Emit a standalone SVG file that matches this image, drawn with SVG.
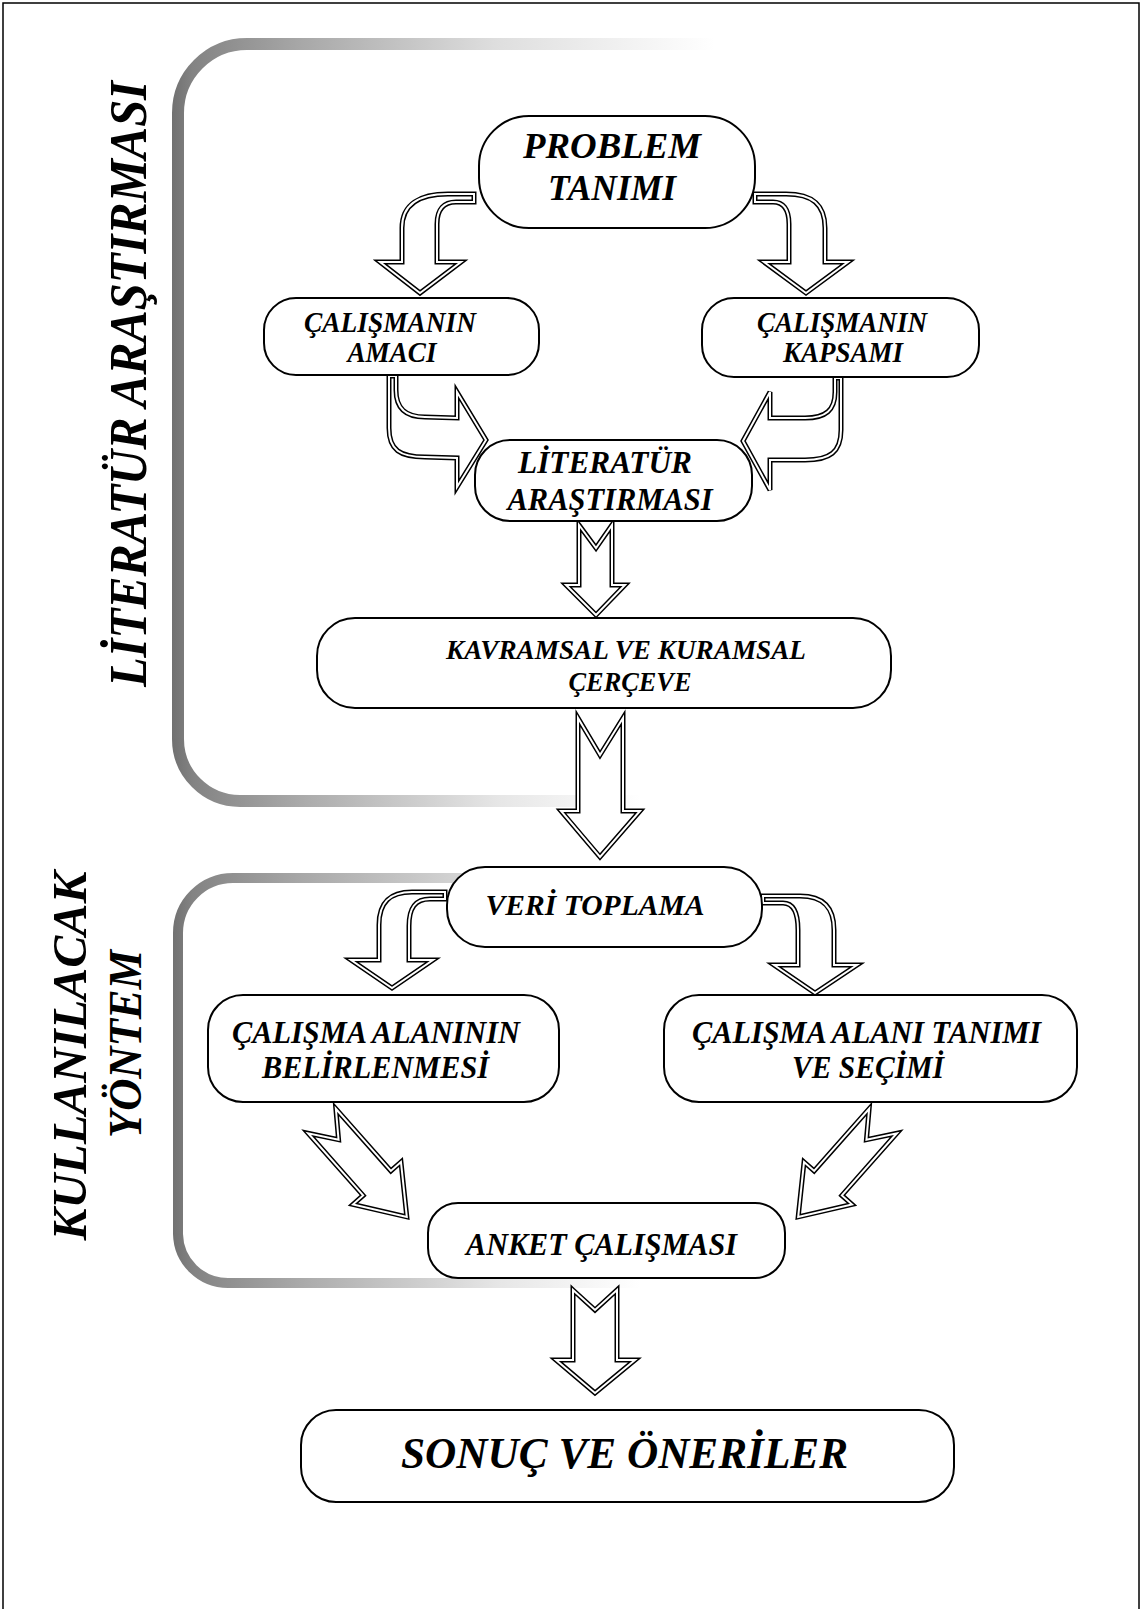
<svg xmlns="http://www.w3.org/2000/svg" xmlns:xlink="http://www.w3.org/1999/xlink" width="1142" height="1609" viewBox="0 0 1142 1609">
<style>
.box{fill:#fff;stroke:#000;stroke-width:2}
.t{font-family:"Liberation Serif","Times New Roman",serif;font-weight:bold;font-style:italic;fill:#000;text-anchor:middle}
.ao{fill:#fff;stroke:#000;stroke-width:5;stroke-linejoin:miter}
.ai{fill:none;stroke:#fff;stroke-width:2;stroke-linejoin:miter}
</style>
<defs>
<linearGradient id="gb" gradientUnits="userSpaceOnUse" x1="165" y1="0" x2="715" y2="0">
<stop offset="0" stop-color="#6a6a6a"/>
<stop offset="0.05" stop-color="#838383"/>
<stop offset="0.25" stop-color="#a8a8a8"/>
<stop offset="0.6" stop-color="#dedede"/>
<stop offset="1" stop-color="#ffffff"/>
</linearGradient>
<linearGradient id="gb2" gradientUnits="userSpaceOnUse" x1="165" y1="0" x2="640" y2="0">
<stop offset="0" stop-color="#6a6a6a"/>
<stop offset="0.06" stop-color="#838383"/>
<stop offset="0.3" stop-color="#acacac"/>
<stop offset="0.7" stop-color="#e6e6e6"/>
<stop offset="1" stop-color="#ffffff"/>
</linearGradient>
<path id="a1" d="M474,194 L448,194 C420,194 402,204 402,228 L402,262 L380,262 L420,293 L461,262 L437,262 L437,224 C437,209 444,202 456,202 L474,202 Z"/>
<path id="a2" d="M755,194 L786,194 C812,194 825,204 825,228 L825,262 L848,262 L806,293 L764,262 L789,262 L789,224 C789,209 783,202 773,202 L755,202 Z"/>
<path id="a3" d="M389,376 L389,428 C389,450 400,457 425,457 L457,458 L457,487 L486,440 L457,392 L457,418 L425,417 C405,417 396,408 396,390 L396,376 Z"/>
<path id="a4" d="M841,378 L841,430 C841,452 830,460 805,460 L770,460 L770,490 L743,441 L770,392 L770,418 L805,418 C826,418 835,410 835,392 L835,378 Z"/>
<path id="a6" d="M579,525 L596,548 L612,525 L612,585 L625,585 L596,615 L566,585 L579,585 Z"/>
<path id="a5" d="M578,718 L600,755 L623,718 L623,811 L640,811 L600,857 L561,811 L578,811 Z"/>
<path id="a7" d="M445,892 L412,892 C390,892 379,902 379,925 L379,960 L351,960 L392,988 L433,960 L409,960 L409,926 C409,908 415,899 430,899 L445,899 Z"/>
<path id="a8" d="M763,896 L800,896 C824,896 834,908 834,930 L834,965 L857,965 L815,993 L774,965 L798,965 L798,930 C798,912 793,903 783,903 L763,903 Z"/>
<path id="da" d="M0,-18.5 L25,0 L0,18.5 L83,18.5 L83,32 L128,0 L83,-32 L83,-18.5 Z"/>
<path id="a10" d="M573,1290 L595,1310 L617,1290 L617,1360 L635,1360 L595,1393 L556,1360 L573,1360 Z"/>
</defs>

<rect x="3" y="3" width="1136" height="1609" fill="none" stroke="#000" stroke-width="1.5"/>

<g id="brackets">
<path fill="none" stroke="url(#gb)" stroke-width="12" d="M715,44 L247,44 A69,69 0 0 0 178,113 L178,739"/>
<path fill="none" stroke="url(#gb2)" stroke-width="12" d="M178,738 L178,739 A62,62 0 0 0 240,801 L640,801"/>
<path fill="none" stroke="url(#gb)" stroke-width="10" d="M700,878 L233,878 A55,55 0 0 0 178,933 L178,1234"/>
<path fill="none" stroke="url(#gb2)" stroke-width="10" d="M178,1233 L178,1234 A50,50 0 0 0 228,1283 L640,1283"/>
</g>

<g id="side-labels">
<text class="t" font-size="52" textLength="606" lengthAdjust="spacingAndGlyphs" transform="translate(146,384) rotate(-90)">LİTERATÜR ARAŞTIRMASI</text>
<text class="t" font-size="49" textLength="369" lengthAdjust="spacingAndGlyphs" transform="translate(86,1056) rotate(-90)">KULLANILACAK</text>
<text class="t" font-size="47" textLength="188" lengthAdjust="spacingAndGlyphs" transform="translate(141,1044) rotate(-90)">YÖNTEM</text>
</g>

<g id="connectors">
<use xlink:href="#a1" class="ao"/><use xlink:href="#a1" class="ai"/>
<use xlink:href="#a2" class="ao"/><use xlink:href="#a2" class="ai"/>
<use xlink:href="#a3" class="ao"/><use xlink:href="#a3" class="ai"/>
<use xlink:href="#a4" class="ao"/><use xlink:href="#a4" class="ai"/>
<use xlink:href="#a6" class="ao"/><use xlink:href="#a6" class="ai"/>
<use xlink:href="#a5" class="ao"/><use xlink:href="#a5" class="ai"/>
<use xlink:href="#a7" class="ao"/><use xlink:href="#a7" class="ai"/>
<use xlink:href="#a8" class="ao"/><use xlink:href="#a8" class="ai"/>
<g transform="translate(322,1121) rotate(48.5)"><use xlink:href="#da" class="ao"/><use xlink:href="#da" class="ai"/></g>
<g transform="translate(883,1121) rotate(131.5) scale(1,-1)"><use xlink:href="#da" class="ao"/><use xlink:href="#da" class="ai"/></g>
<use xlink:href="#a10" class="ao"/><use xlink:href="#a10" class="ai"/>
</g>

<g id="n-problem">
<rect class="box" x="479" y="116" width="276" height="112" rx="50"/>
<text class="t" font-size="36" x="612" y="158" textLength="178" lengthAdjust="spacingAndGlyphs">PROBLEM</text>
<text class="t" font-size="36" x="612" y="200" textLength="128" lengthAdjust="spacingAndGlyphs">TANIMI</text>
</g>
<g id="n-amac">
<rect class="box" x="264" y="298" width="275" height="77" rx="32"/>
<text class="t" font-size="28.5" x="390" y="332" textLength="172" lengthAdjust="spacingAndGlyphs">ÇALIŞMANIN</text>
<text class="t" font-size="28.5" x="392" y="362" textLength="89" lengthAdjust="spacingAndGlyphs">AMACI</text>
</g>
<g id="n-kapsam">
<rect class="box" x="702" y="298" width="277" height="79" rx="32"/>
<text class="t" font-size="28.5" x="842" y="332" textLength="170" lengthAdjust="spacingAndGlyphs">ÇALIŞMANIN</text>
<text class="t" font-size="28.5" x="843" y="362" textLength="120" lengthAdjust="spacingAndGlyphs">KAPSAMI</text>
</g>
<g id="n-literatur">
<rect class="box" x="475" y="440" width="277" height="81" rx="35"/>
<text class="t" font-size="31" x="605" y="473" textLength="174" lengthAdjust="spacingAndGlyphs">LİTERATÜR</text>
<text class="t" font-size="31" x="610" y="510" textLength="205" lengthAdjust="spacingAndGlyphs">ARAŞTIRMASI</text>
</g>
<g id="n-kavramsal">
<rect class="box" x="317" y="618" width="574" height="90" rx="38"/>
<text class="t" font-size="27.5" x="626" y="659" textLength="360" lengthAdjust="spacingAndGlyphs">KAVRAMSAL VE KURAMSAL</text>
<text class="t" font-size="27.5" x="630" y="691" textLength="123" lengthAdjust="spacingAndGlyphs">ÇERÇEVE</text>
</g>
<g id="n-veri">
<rect class="box" x="447" y="867" width="315" height="80" rx="38"/>
<text class="t" font-size="30" x="595" y="915" textLength="219" lengthAdjust="spacingAndGlyphs">VERİ TOPLAMA</text>
</g>
<g id="n-belirlenmesi">
<rect class="box" x="208" y="995" width="351" height="107" rx="35"/>
<text class="t" font-size="31.5" x="376" y="1043" textLength="288" lengthAdjust="spacingAndGlyphs">ÇALIŞMA ALANININ</text>
<text class="t" font-size="31.5" x="375.5" y="1078" textLength="227" lengthAdjust="spacingAndGlyphs">BELİRLENMESİ</text>
</g>
<g id="n-secimi">
<rect class="box" x="664" y="995" width="413" height="107" rx="35"/>
<text class="t" font-size="31.5" x="866.5" y="1043" textLength="349" lengthAdjust="spacingAndGlyphs">ÇALIŞMA ALANI TANIMI</text>
<text class="t" font-size="31.5" x="868" y="1078" textLength="152" lengthAdjust="spacingAndGlyphs">VE SEÇİMİ</text>
</g>
<g id="n-anket">
<rect class="box" x="428" y="1203" width="357" height="75" rx="30"/>
<text class="t" font-size="31" x="601.5" y="1255" textLength="271" lengthAdjust="spacingAndGlyphs">ANKET ÇALIŞMASI</text>
</g>
<g id="n-sonuc">
<rect class="box" x="301" y="1410" width="653" height="92" rx="35"/>
<text class="t" font-size="45" x="624.5" y="1468" textLength="447" lengthAdjust="spacingAndGlyphs">SONUÇ VE ÖNERİLER</text>
</g>
</svg>
